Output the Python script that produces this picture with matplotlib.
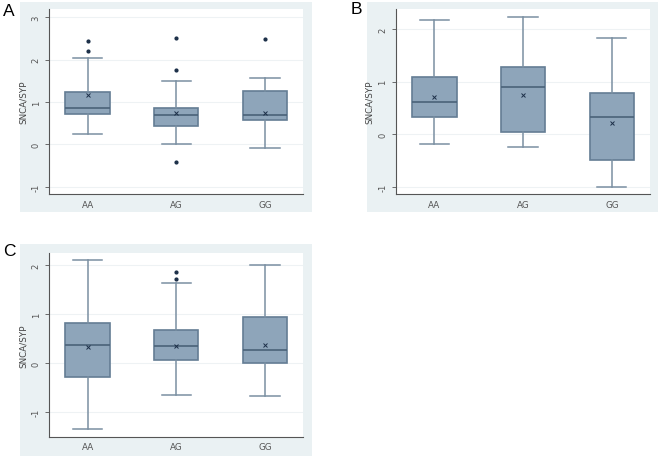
import matplotlib as mpl
mpl.use('Agg')
import matplotlib.pyplot as plt

groups = ['AA', 'AG', 'GG']

# panel A
a_whislo = [0.24, 0.00, -0.08]
a_q1 = [0.73, 0.43, 0.58]
a_med = [0.85, 0.70, 0.70]
a_q3 = [1.25, 0.87, 1.27]
a_whishi = [2.05, 1.50, 1.57]
a_mean = [1.16, 0.74, 0.74]
a_fliers = [[2.44, 2.21], [2.52, 1.75, -0.41], [2.48]]

# panel B
b_whislo = [-0.18, -0.24, -1.00]
b_q1 = [0.32, 0.04, -0.49]
b_med = [0.61, 0.89, 0.32]
b_q3 = [1.08, 1.27, 0.79]
b_whishi = [2.17, 2.22, 1.82]
b_mean = [0.70, 0.74, 0.22]
b_fliers = [[], [], []]

# panel C
c_whislo = [-1.36, -0.66, -0.67]
c_q1 = [-0.29, 0.06, 0.00]
c_med = [0.38, 0.35, 0.26]
c_q3 = [0.82, 0.68, 0.94]
c_whishi = [2.12, 1.64, 2.02]
c_mean = [0.32, 0.34, 0.38]
c_fliers = [[], [1.86, 1.73], []]

box_fill = '#8ea5ba'
box_edge = '#647d94'
dark = '#1c2f48'
bg = '#eaf1f3'

W, H = 661, 460
fig = plt.figure(figsize=(W / 100, H / 100), dpi=100)


def px_rect(x0, y0, x1, y1):
    return [x0 / W, 1 - y1 / H, (x1 - x0) / W, (y1 - y0) / H]


def panel(rect_bg, rect_ax, letter, letter_xy, whislo, q1, med, q3, whishi, mean, fliers, ylim, yticks):
    # light outer frame of the graph region
    bax = fig.add_axes(px_rect(*rect_bg), zorder=-1)
    bax.set_facecolor(bg)
    bax.set_xticks([])
    bax.set_yticks([])
    for s in bax.spines.values():
        s.set_visible(False)

    ax = fig.add_axes(px_rect(*rect_ax), zorder=1)
    stats = []
    for i, g in enumerate(groups):
        stats.append(dict(label=g, whislo=whislo[i], q1=q1[i], med=med[i], q3=q3[i],
                          whishi=whishi[i], mean=mean[i], fliers=fliers[i]))
    ax.bxp(stats, positions=[1, 2, 3], widths=0.5, capwidths=0.33, patch_artist=True,
           showmeans=True,
           boxprops=dict(facecolor=box_fill, edgecolor=box_edge, linewidth=1.2),
           medianprops=dict(color='#4a6279', linewidth=1.2),
           whiskerprops=dict(color='#7a8fa2', linewidth=1.1),
           capprops=dict(color='#7a8fa2', linewidth=1.1),
           meanprops=dict(marker='x', markeredgecolor=dark, markersize=3.2, markeredgewidth=0.7),
           flierprops=dict(marker='o', markerfacecolor=dark, markeredgecolor=dark, markersize=2.0))
    ax.set_xlim(0.565, 3.43)
    ax.set_ylim(*ylim)
    ax.set_yticks(yticks)
    ax.set_yticklabels([str(t) for t in yticks], rotation=90, va='center')
    ax.yaxis.grid(True, color='#eef2f4', linewidth=0.8)
    ax.set_axisbelow(True)
    ax.spines['top'].set_visible(False)
    ax.spines['right'].set_visible(False)
    for s in ['left', 'bottom']:
        ax.spines[s].set_color('#555555')
        ax.spines[s].set_linewidth(0.8)
    ax.tick_params(axis='y', labelsize=6, colors='#555555', length=3, width=0.6, pad=3)
    ax.tick_params(axis='x', labelsize=6.3, colors='#555555', length=0, pad=4)
    ax.set_ylabel('SNCA/SYP', fontsize=6.3, color='#444444', labelpad=3)
    fig.text(letter_xy[0] / W, 1 - letter_xy[1] / H, letter, fontsize=12.5, ha='left', va='top',
             family='Liberation Sans')
    return ax


panel((20, 3, 312, 213), (49, 10, 303, 195), 'A', (3, 4),
      a_whislo, a_q1, a_med, a_q3, a_whishi, a_mean, a_fliers, (-1.17, 3.2), [-1, 0, 1, 2, 3])
panel((366.7, 3, 658, 213), (395.7, 10, 650, 195), 'B', (351, 2),
      b_whislo, b_q1, b_med, b_q3, b_whishi, b_mean, b_fliers, (-1.14, 2.38), [-1, 0, 1, 2])
panel((20, 245, 312, 456.7), (49, 254.3, 303, 437.7), 'C', (3, 244),
      c_whislo, c_q1, c_med, c_q3, c_whishi, c_mean, c_fliers, (-1.51, 2.25), [-1, 0, 1, 2])

plt.savefig('out.png', dpi=100)
plt.close()
